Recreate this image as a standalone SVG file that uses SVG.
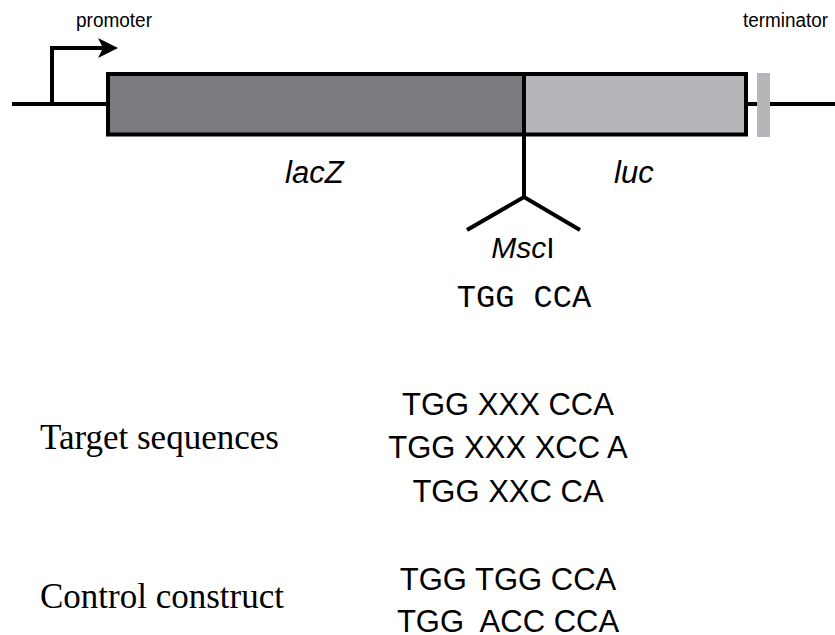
<svg xmlns="http://www.w3.org/2000/svg" width="835" height="635" viewBox="0 0 835 635">
<style>
.ln{stroke:#000;stroke-width:4;fill:none}
.sans{font-family:"Liberation Sans",Arial,sans-serif;fill:#000}
.serif{font-family:"Liberation Serif","Times New Roman",serif;fill:#000;font-size:35px}
.seq{font-family:"Liberation Sans",Arial,sans-serif;font-size:31px;text-anchor:middle;fill:#000;white-space:pre}
</style>
<rect width="835" height="635" fill="#fff"/>
<g id="connectors">
<line class="ln" x1="12" y1="104" x2="108" y2="104"/>
<line class="ln" x1="746" y1="104" x2="835" y2="104"/>
<line class="ln" x1="524" y1="134" x2="524" y2="197"/>
<polyline class="ln" points="467,230 524,197 580,230"/>
</g>
<g id="promoter">
<polyline class="ln" points="52,104 52,48 106,48"/>
<path d="M118,48 L98,38 L103,48 L98,58 Z" fill="#000"/>
<text class="sans" x="76" y="27" font-size="20" textLength="76" lengthAdjust="spacingAndGlyphs">promoter</text>
</g>
<g id="lacZ">
<rect x="108" y="74" width="416" height="60.5" fill="#7a7b7f" stroke="#000" stroke-width="4"/>
<text class="sans" x="285" y="183" font-size="31" font-style="italic">lacZ</text>
</g>
<g id="luc">
<rect x="524" y="74" width="222" height="60.5" fill="#b5b6b9" stroke="#000" stroke-width="4"/>
<text class="sans" x="614" y="183" font-size="31" font-style="italic">luc</text>
</g>
<g id="terminator">
<rect x="757" y="73" width="13" height="64" fill="#b5b6b9"/>
<text class="sans" x="743" y="27" font-size="20" textLength="85" lengthAdjust="spacingAndGlyphs">terminator</text>
</g>
<g id="mscI">
<text class="sans" x="523" y="258" font-size="30" text-anchor="middle"><tspan font-style="italic">Msc</tspan>I</text>
<text x="524" y="307" font-family="'Liberation Mono','Courier New',monospace" font-size="32" text-anchor="middle">TGG CCA</text>
</g>
<g id="target">
<text class="serif" x="40" y="449">Target sequences</text>
<text class="seq" x="508" y="415">TGG XXX CCA</text>
<text class="seq" x="508" y="458">TGG XXX XCC A</text>
<text class="seq" x="508" y="502">TGG XXC CA</text>
</g>
<g id="control">
<text class="serif" x="40" y="608">Control construct</text>
<text class="seq" x="508" y="590">TGG TGG CCA</text>
<text class="seq" x="508" y="632" xml:space="preserve">TGG  ACC CCA</text>
</g>
</svg>
